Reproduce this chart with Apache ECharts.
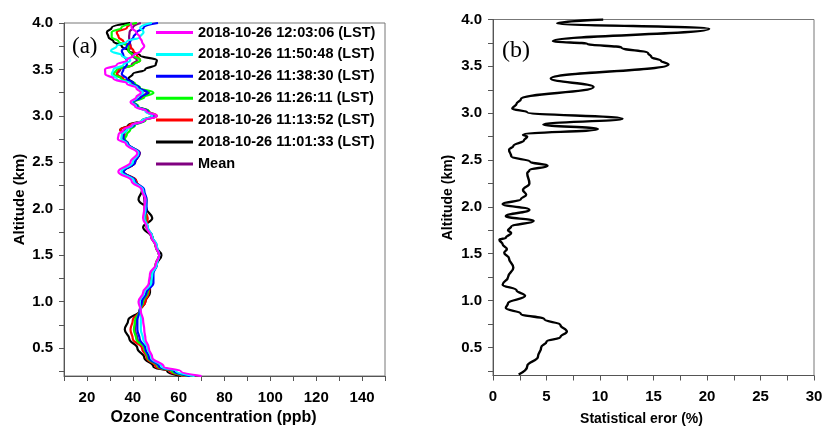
<!DOCTYPE html>
<html>
<head>
<meta charset="utf-8">
<script src="https://cdn.jsdelivr.net/npm/echarts@6/dist/echarts.min.js"></script>
<style>
  html, body { margin: 0; padding: 0; background: #fff; }
  #chart { width: 824px; height: 426px; }
</style>
</head>
<body>
<div id="chart"></div>
<script>
  // altitude grid (km) shared by the ozone profiles
  let altitude = [0.2, 0.25, 0.3, 0.4, 0.5, 0.6, 0.7, 0.8, 0.9, 1.0, 1.1, 1.2, 1.3, 1.4, 1.5, 1.6, 1.7, 1.8, 1.9, 2.0,
    2.1, 2.2, 2.3, 2.4, 2.5, 2.6, 2.7, 2.75, 2.8, 2.85, 2.9, 2.95, 3.0, 3.05, 3.1, 3.15, 3.2, 3.25, 3.3, 3.35,
    3.4, 3.45, 3.5, 3.55, 3.6, 3.65, 3.7, 3.75, 3.8, 3.85, 3.9, 3.95, 4.0]

  // ozone concentration (ppb), one array per profile
  let o3_1203 = [70, 61, 53.5, 48.5, 47, 45.5, 45, 44.5, 43.5, 42.5, 44.5, 47, 47.5, 50, 51.5, 50, 48, 46, 44.5, 45,
    45.5, 44, 39.5, 33.7, 39, 42, 37, 33.5, 33.8, 36, 39.5, 45, 50.5, 46, 41, 39, 41.5, 43.5, 41.5, 37.4,
    31.6, 28, 27.9, 33, 37.4, 40.3, 43.5, 45, 44, 43, 41.5, 39.5, 39]
  let o3_1150 = [67, 59, 52.5, 48, 46.5, 44.5, 43.5, 43.5, 43.5, 43, 45, 48, 48.5, 50.5, 51.5, 50.5, 48.5, 46.5, 45, 45.5,
    45.5, 44.5, 40.5, 35, 40, 42.5, 37.5, 35, 35.2, 37.4, 40, 44, 48.5, 45.5, 41.5, 39.5, 42, 44.5, 42, 38.9,
    33, 30.8, 31.6, 35.9, 38.9, 35.2, 30.5, 33, 37.4, 43.2, 44.7, 43.2, 48.3]
  let o3_1138 = [65, 58, 51.5, 47, 45.5, 43, 42, 42, 43, 44, 46, 49, 49, 50.5, 51.5, 50.5, 48.5, 46.5, 45, 46,
    46, 45, 41, 36, 41, 43, 38, 36, 35.9, 37.4, 40.5, 45, 49, 46.5, 42, 40, 43.5, 46.5, 43, 40.3,
    37.4, 35.2, 35.9, 37.4, 37.4, 35.9, 35.2, 37.4, 38.9, 40.3, 41.8, 44.7, 51]
  let o3_1126 = [64, 57, 51, 46.5, 45, 41.5, 40.5, 41, 43, 44.5, 46.5, 48, 48.5, 50, 51.5, 50, 48.5, 46, 45.5, 45.5,
    46, 44.5, 41, 35.5, 40.5, 42.5, 38, 36.5, 37.4, 38.9, 41, 45.5, 49.8, 47, 42.5, 40.5, 45, 49, 43.2, 41,
    35, 31.6, 33, 40.3, 43.2, 40.3, 38.1, 38.1, 33.8, 30.8, 30.8, 35, 41.8]
  let o3_1113 = [63, 56, 50, 46, 44, 40, 39, 40, 43, 45.5, 47, 48, 48.5, 50, 51.5, 50, 48.5, 46, 46.5, 45,
    45.5, 44.5, 41.5, 36, 41, 43, 37.5, 35.5, 36.5, 34.5, 38.5, 45, 50.5, 47, 42, 40, 44, 46.5, 42.5, 40,
    35.9, 33, 33.8, 40.3, 43.2, 41.8, 40.3, 38.9, 35.9, 33.8, 33, 37.4, 41.8]
  let o3_1101 = [61, 55, 49, 45, 42, 38.5, 36.5, 38, 43, 45.5, 47.5, 47.5, 48.5, 50.5, 52.5, 50, 48, 44.5, 48.5, 46,
    42.5, 44, 41.5, 36, 41, 43, 37.5, 35.5, 35.9, 34.5, 38, 44, 48.5, 46, 42, 40, 44, 46.9, 43, 40.3,
    38.1, 40, 45.4, 50, 50.5, 43.2, 38.1, 35.2, 31.6, 29.4, 28.7, 30.8, 38.9]
  let o3_mean = [65, 57.5, 51, 47, 45, 42, 41, 41.5, 43, 44, 46, 48, 48.5, 50, 51.5, 50, 48.5, 46, 46, 45.5,
    45, 44.5, 41, 35.5, 40.5, 42.7, 37.5, 35.3, 35.8, 36.5, 39.5, 44.7, 49.5, 46.3, 41.8, 40, 43.3, 46.2, 42.5, 39.6,
    35.2, 33.1, 34.6, 39.5, 41.8, 39.8, 38.3, 39.1, 38.6, 38.4, 38.6, 40, 43.5]

  // statistical error profile
  let errAltitude = [0.21, 0.3, 0.4, 0.5, 0.56, 0.61, 0.67, 0.74, 0.8, 0.86, 0.92, 0.97, 1.05, 1.11, 1.17, 1.25, 1.35,
    1.45, 1.51, 1.55, 1.6, 1.65, 1.67, 1.72, 1.75, 1.79, 1.85, 1.9, 1.97, 2.03, 2.08, 2.13, 2.18, 2.25, 2.36,
    2.39, 2.44, 2.48, 2.54, 2.61, 2.65, 2.71, 2.75, 2.77, 2.83, 2.88, 2.94, 3.01, 3.05, 3.1, 3.15, 3.28, 3.37,
    3.52, 3.56, 3.6, 3.64, 3.7, 3.74, 3.77, 3.9, 3.96, 4.0]
  let errValue = [2.4, 3.2, 4.2, 4.5, 5.0, 6.3, 6.9, 6.3, 4.8, 2.6, 1.2, 1.4, 3.0, 2.2, 0.9, 1.4, 1.9,
    1.5, 1.05, 1.3, 0.9, 0.6, 1.2, 1.7, 1.4, 1.7, 3.8, 1.2, 3.4, 0.9, 2.6, 3.1, 2.8, 3.4, 3.2,
    3.4, 5.1, 3.5, 1.7, 1.5, 1.9, 2.9, 3.2, 2.8, 9.8, 4.7, 12.1, 3.2, 1.8, 2.2, 2.6, 9.4, 5.4,
    16.4, 15.7, 14.8, 14.5, 12.0, 8.8, 5.6, 20.2, 6.0, 10.3]

  // axis ticks and labels
  let altTicks = [0.25, 0.5, 0.75, 1.0, 1.25, 1.5, 1.75, 2.0, 2.25, 2.5, 2.75, 3.0, 3.25, 3.5, 3.75, 4.0]
  let altLabels = [0.5, 1.0, 1.5, 2.0, 2.5, 3.0, 3.5, 4.0]
  let o3Ticks = [10, 20, 30, 40, 50, 60, 70, 80, 90, 100, 110, 120, 130, 140, 150]
  let o3Labels = [20, 40, 60, 80, 100, 120, 140]
  let errTicks = [0, 2.5, 5, 7.5, 10, 12.5, 15, 17.5, 20, 22.5, 25, 27.5, 30]
  let errLabels = [0, 5, 10, 15, 20, 25, 30]

  let profiles = [
    { name: 'Mean', color: '#800080', values: o3_mean },
    { name: '2018-10-26 11:01:33 (LST)', color: '#000000', values: o3_1101 },
    { name: '2018-10-26 11:13:52 (LST)', color: '#ff0000', values: o3_1113 },
    { name: '2018-10-26 11:26:11 (LST)', color: '#00ff00', values: o3_1126 },
    { name: '2018-10-26 11:38:30 (LST)', color: '#0000ff', values: o3_1138 },
    { name: '2018-10-26 11:50:48 (LST)', color: '#00ffff', values: o3_1150 },
    { name: '2018-10-26 12:03:06 (LST)', color: '#ff00ff', values: o3_1203 }
  ]

  let font = '"Liberation Sans", Arial, sans-serif'
  let axisColor = '#555'

  function axisCommon(extra) {
    let base = {
      type: 'value',
      axisLine: { show: true, onZero: false, lineStyle: { color: axisColor, width: 1 } },
      splitLine: { show: false },
      nameLocation: 'middle'
    }
    return Object.assign(base, extra)
  }

  let series = profiles.map(function (p) {
    return {
      name: p.name,
      type: 'line',
      xAxisIndex: 0,
      yAxisIndex: 0,
      symbol: 'none',
      smooth: 0.45,
      smoothMonotone: 'y',
      lineStyle: { color: p.color, width: 2.2 },
      itemStyle: { color: p.color },
      data: altitude.map(function (a, i) { return [p.values[i], a] })
    }
  })

  series.push({
    name: 'error',
    type: 'line',
    xAxisIndex: 1,
    yAxisIndex: 1,
    symbol: 'none',
    smooth: 0.45,
    smoothMonotone: 'y',
    lineStyle: { color: '#000', width: 2.4 },
    data: errAltitude.map(function (a, i) { return [errValue[i], a] })
  })

  let myChart = echarts.init(document.getElementById('chart'), null, { renderer: 'canvas' })
  let option = {
    backgroundColor: '#fff',
    animation: false,
    textStyle: { fontFamily: font },
    grid: [
      { left: 64, top: 23, width: 321, height: 353, show: true, borderColor: '#777', borderWidth: 1, outerBoundsMode: 'none' },
      { left: 493, top: 19.5, width: 321, height: 356, show: true, borderColor: '#777', borderWidth: 1, outerBoundsMode: 'none' }
    ],
    legend: {
      orient: 'vertical',
      left: 156,
      top: 25,
      padding: 0,
      icon: 'rect',
      itemWidth: 37,
      itemHeight: 3,
      itemGap: 6.9,
      selectedMode: false,
      data: [
        '2018-10-26 12:03:06 (LST)', '2018-10-26 11:50:48 (LST)', '2018-10-26 11:38:30 (LST)',
        '2018-10-26 11:26:11 (LST)', '2018-10-26 11:13:52 (LST)', '2018-10-26 11:01:33 (LST)', 'Mean'
      ],
      textStyle: { fontFamily: font, fontWeight: 'bold', fontSize: 14.5, color: '#000', lineHeight: 14 }
    },
    xAxis: [
      axisCommon({
        gridIndex: 0, min: 10, max: 150,
        name: 'Ozone Concentration (ppb)', nameGap: 32,
        nameTextStyle: { fontFamily: font, fontWeight: 'bold', fontSize: 16, color: '#000', padding: [0, 22, 0, 0] },
        axisTick: { show: true, length: 5, customValues: o3Ticks, lineStyle: { color: axisColor } },
        axisLabel: { customValues: o3Labels, margin: 14, fontFamily: font, fontWeight: 'bold', fontSize: 15, color: '#000' }
      }),
      axisCommon({
        gridIndex: 1, min: 0, max: 30,
        name: 'Statistical eror (%)', nameGap: 37,
        nameTextStyle: { fontFamily: font, fontWeight: 'bold', fontSize: 14, color: '#000', padding: [0, 24, 0, 0] },
        axisTick: { show: true, length: 5, customValues: errTicks, lineStyle: { color: axisColor } },
        axisLabel: { customValues: errLabels, margin: 14, fontFamily: font, fontWeight: 'bold', fontSize: 15, color: '#000' }
      })
    ],
    yAxis: [
      axisCommon({
        gridIndex: 0, min: 0.2, max: 4.0,
        name: 'Altitude (km)', nameGap: 37,
        nameTextStyle: { fontFamily: font, fontWeight: 'bold', fontSize: 15, color: '#000' },
        axisTick: { show: true, length: 5, customValues: altTicks, lineStyle: { color: axisColor } },
        axisLabel: {
          customValues: altLabels, margin: 11, fontFamily: font, fontWeight: 'bold', fontSize: 15, color: '#000',
          formatter: function (v) { return v.toFixed(1) }
        }
      }),
      axisCommon({
        gridIndex: 1, min: 0.2, max: 4.0,
        name: 'Altitude (km)', nameGap: 38,
        nameTextStyle: { fontFamily: font, fontWeight: 'bold', fontSize: 14, color: '#000' },
        axisTick: { show: true, length: 5, customValues: altTicks, lineStyle: { color: axisColor } },
        axisLabel: {
          customValues: altLabels, margin: 11, fontFamily: font, fontWeight: 'bold', fontSize: 15, color: '#000',
          formatter: function (v) { return v.toFixed(1) }
        }
      })
    ],
    graphic: [
      { type: 'text', left: 72, top: 35, style: { text: '(a)', font: '23px "Liberation Serif", "Times New Roman", serif', fill: '#000' } },
      { type: 'text', left: 502, top: 39, style: { text: '(b)', font: '24px "Liberation Serif", "Times New Roman", serif', fill: '#000' } }
    ],
    series: series
  }
  myChart.setOption(option)
</script>
</body>
</html>
